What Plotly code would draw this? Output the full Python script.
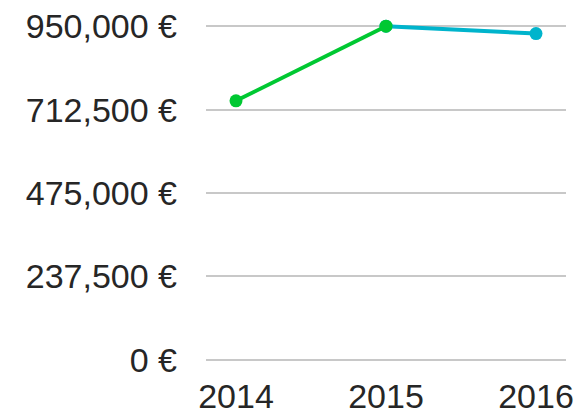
import plotly.graph_objects as go

# Yearly totals in euros
years = ["2014", "2015", "2016"]
values = [737500, 950000, 929000]
y_ticks = [0, 237500, 475000, 712500, 950000]
y_tick_labels = ["0 €", "237,500 €", "475,000 €", "712,500 €", "950,000 €"]

green = "#00c832"
cyan = "#00b4cc"
x_pos = list(range(len(years)))

fig = go.Figure()

# Second segment (2015 -> 2016) in cyan, drawn first so the green point stays on top
fig.add_trace(go.Scatter(
    x=x_pos[1:], y=values[1:], mode="lines+markers",
    line=dict(color=cyan, width=4), marker=dict(size=13, color=cyan),
    cliponaxis=False, hoverinfo="skip",
))
# First segment (2014 -> 2015) in green
fig.add_trace(go.Scatter(
    x=x_pos[:2], y=values[:2], mode="lines+markers",
    line=dict(color=green, width=4), marker=dict(size=13, color=green),
    cliponaxis=False, hoverinfo="skip",
))

font = dict(family="Liberation Sans, Arial, sans-serif", size=34, color="#262626")

# Padding on the value range keeps the edge grid lines visible
pad = 12000
plot_h = 411 - 26 - 51
extra = pad * plot_h / 950000

fig.update_layout(
    width=580, height=411,
    margin=dict(l=206, r=14, t=26 - extra, b=51 - extra),
    paper_bgcolor="white", plot_bgcolor="white",
    showlegend=False,
    font=font,
    xaxis=dict(
        range=[-0.2, 2.2], tickmode="array", tickvals=x_pos, ticktext=years,
        showgrid=False, zeroline=False, showline=False, ticks="",
        ticklabelstandoff=9, tickfont=font, automargin=False,
    ),
    yaxis=dict(
        range=[-pad, 950000 + pad], tickmode="array", tickvals=y_ticks,
        ticktext=y_tick_labels,
        showgrid=True, gridcolor="#c8c8c8", gridwidth=2,
        zeroline=False, showline=False, ticks="",
        ticklabelstandoff=28, tickfont=font, automargin=False,
    ),
)

fig.write_html("out.html")
